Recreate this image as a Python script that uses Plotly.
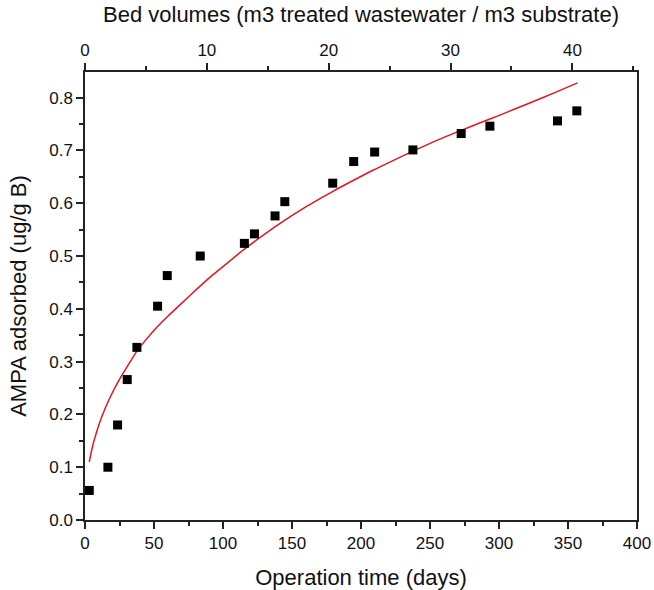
import plotly.graph_objects as go

# Data
days = [3.1, 16.6, 23.6, 30.6, 37.6, 52.6, 59.6, 83.5, 115.5, 122.8, 137.7, 144.8,
        179.5, 194.7, 209.9, 237.6, 272.6, 293.4, 342.4, 356.4]
ampa = [0.056, 0.100, 0.180, 0.266, 0.327, 0.405, 0.463, 0.500, 0.524, 0.542, 0.576, 0.603,
        0.638, 0.679, 0.697, 0.701, 0.732, 0.746, 0.756, 0.775]

fit_days = [3.1, 4.0, 5.0, 6.2, 8.0, 10.0, 14.7, 20.0, 25.6, 30.0, 37.6, 45.0, 52.1, 60.0,
            69.0, 78.0, 88.0, 100.0, 115.5, 130.0, 143.8, 160.0, 180.0, 195.0, 209.0,
            225.0, 238.0, 255.0, 272.6, 285.0, 300.6, 322.3, 340.0, 356.9]
fit_ampa = [0.110, 0.122, 0.134, 0.147, 0.163, 0.180, 0.212, 0.242, 0.269, 0.288, 0.320,
            0.344, 0.365, 0.386, 0.408, 0.430, 0.454, 0.480, 0.513, 0.541, 0.566, 0.593,
            0.623, 0.644, 0.663, 0.683, 0.699, 0.719, 0.738, 0.751, 0.767, 0.790, 0.809, 0.828]

x_range = [0, 400]
bv_range = [0, 45.3]
y_range = [0, 0.8486]

font_family = "Liberation Sans, Arial, sans-serif"

fig = go.Figure()
fig.add_trace(go.Scatter(x=fit_days, y=fit_ampa, mode="lines",
                         line=dict(color="#e8141c", width=1.5, shape="spline", smoothing=0.6),
                         showlegend=False, hoverinfo="skip"))
fig.add_trace(go.Scatter(x=days, y=ampa, mode="markers",
                         marker=dict(symbol="square", size=9, color="black"), showlegend=False))
fig.add_trace(go.Scatter(x=bv_range, y=[None, None], xaxis="x2", mode="lines", showlegend=False,
                         hoverinfo="skip"))

axis_common = dict(showgrid=False, zeroline=False, showline=True, linecolor="#222", linewidth=1.5,
                   ticks="outside", ticklen=7, tickwidth=1.5, tickcolor="#222", automargin=False,
                   tickfont=dict(size=17, color="#111", family=font_family))

fig.update_layout(
    width=654, height=590,
    margin=dict(l=85, r=17, t=72, b=70, autoexpand=False),
    paper_bgcolor="white", plot_bgcolor="white",
    font=dict(family=font_family, color="#111"),
    xaxis=dict(range=x_range, dtick=50, tick0=0, mirror=False,
               minor=dict(dtick=25, ticks="outside", ticklen=4, tickwidth=1.5, tickcolor="#222"),
               title=dict(text="Operation time (days)", font=dict(size=22), standoff=17),
               **axis_common),
    xaxis2=dict(range=bv_range, overlaying="x", side="top", dtick=10, tick0=0,
                minor=dict(dtick=5, ticks="outside", ticklen=4, tickwidth=1.5, tickcolor="#222"),
                title=dict(text="Bed volumes (m3 treated wastewater / m3 substrate)", font=dict(size=22), standoff=13),
                **axis_common),
    yaxis=dict(range=y_range, dtick=0.1, tick0=0, tickformat=".1f", mirror=True,
               minor=dict(dtick=0.05, ticks="outside", ticklen=4, tickwidth=1.5, tickcolor="#222"),
               title=dict(text="AMPA adsorbed (ug/g B)", font=dict(size=22), standoff=17),
               **axis_common),
)

fig.write_html("out.html")
